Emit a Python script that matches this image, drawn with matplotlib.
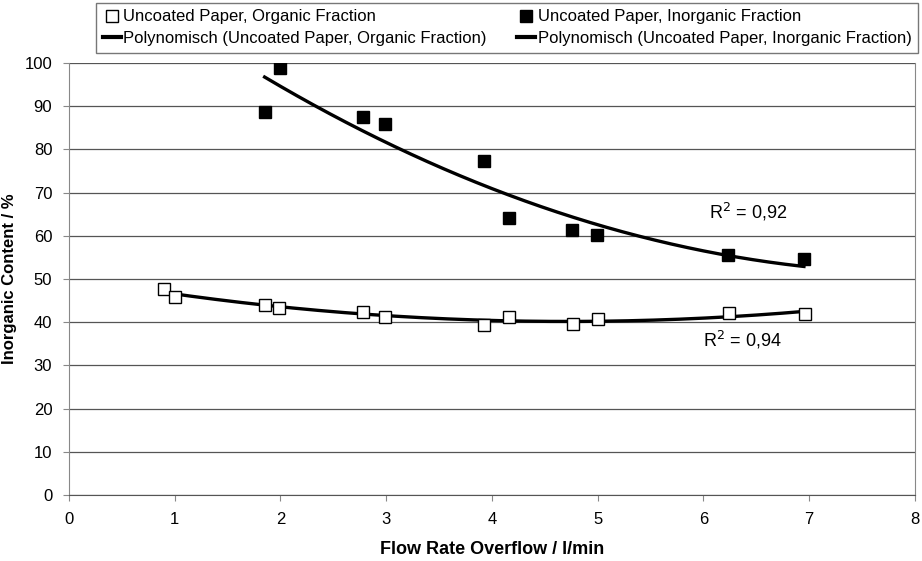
import numpy as np
import matplotlib
matplotlib.use("Agg")
import matplotlib.pyplot as plt
from matplotlib.lines import Line2D

plt.rcParams['font.family'] = ['Liberation Sans', 'DejaVu Sans']

# Data
flow_org = [0.90, 1.00, 1.85, 1.99, 2.78, 2.99, 3.92, 4.16, 4.77, 5.00, 6.24, 6.96]
organic = [47.8, 45.8, 43.9, 43.4, 42.4, 41.2, 39.4, 41.1, 39.6, 40.8, 42.2, 41.8]
flow_inorg = [1.85, 2.00, 2.78, 2.99, 3.92, 4.16, 4.76, 4.99, 6.23, 6.95]
inorganic = [88.7, 98.9, 87.4, 85.8, 77.3, 64.1, 61.3, 60.1, 55.6, 54.6]
r2_labels = ["R$^2$ = 0,92", "R$^2$ = 0,94"]
r2_pos = [(6.42, 65.5), (6.37, 35.9)]

fig = plt.figure(figsize=(9.22, 5.61), dpi=100)
ax = fig.add_axes([0.0748, 0.1176, 0.9176, 0.7701])

# trendlines (2nd order polynomial fits)
for xs, ys in [(flow_org, organic), (flow_inorg, inorganic)]:
    c = np.polyfit(xs, ys, 2)
    xx = np.linspace(min(xs), max(xs), 200)
    ax.plot(xx, np.polyval(c, xx), color='black', lw=2.4, zorder=3)

ax.plot(flow_org, organic, 's', ms=8.5, mfc='white', mec='black', mew=1.0, zorder=4)
ax.plot(flow_inorg, inorganic, 's', ms=8.5, mfc='black', mec='black', zorder=4)

for t, (x, y) in zip(r2_labels, r2_pos):
    ax.text(x, y, t, fontsize=13, ha='center', va='center')

ax.set_xlim(0, 8)
ax.set_ylim(0, 100)
ax.set_xticks(range(0, 9))
ax.set_yticks(range(0, 101, 10))
ax.yaxis.grid(True, color='#555555', lw=0.9)
ax.set_axisbelow(True)
ax.spines['top'].set_visible(False)
ax.spines['right'].set_color('#888888')
ax.spines['left'].set_color('#888888')
ax.spines['bottom'].set_color('#555555')
ax.tick_params(direction='out', length=4, color='#888888', labelsize=12, pad=8)
ax.set_xlabel('Flow Rate Overflow / l/min', fontsize=13, fontweight='bold', labelpad=10)
ax.set_ylabel('Inorganic Content / %', fontsize=12, fontweight='bold')
ax.yaxis.set_label_coords(-0.061, 0.5)

handles = [
    Line2D([], [], ls='none', marker='s', ms=8, mfc='white', mec='black'),
    Line2D([], [], color='black', lw=3),
    Line2D([], [], ls='none', marker='s', ms=8, mfc='black', mec='black'),
    Line2D([], [], color='black', lw=3),
]
labels = ['Uncoated Paper, Organic Fraction',
          'Polynomisch (Uncoated Paper, Organic Fraction)',
          'Uncoated Paper, Inorganic Fraction',
          'Polynomisch (Uncoated Paper, Inorganic Fraction)']
leg = fig.legend(handles, labels, ncol=2, loc='upper right',
                 bbox_to_anchor=(0.996, 0.995), fontsize=12, frameon=True,
                 fancybox=False, edgecolor='#555555', handlelength=1.1,
                 handletextpad=0.15, columnspacing=1.8, labelspacing=0.4,
                 borderpad=0.4, borderaxespad=0.0)
leg.get_frame().set_linewidth(1.0)

fig.savefig('out.png', dpi=100)
